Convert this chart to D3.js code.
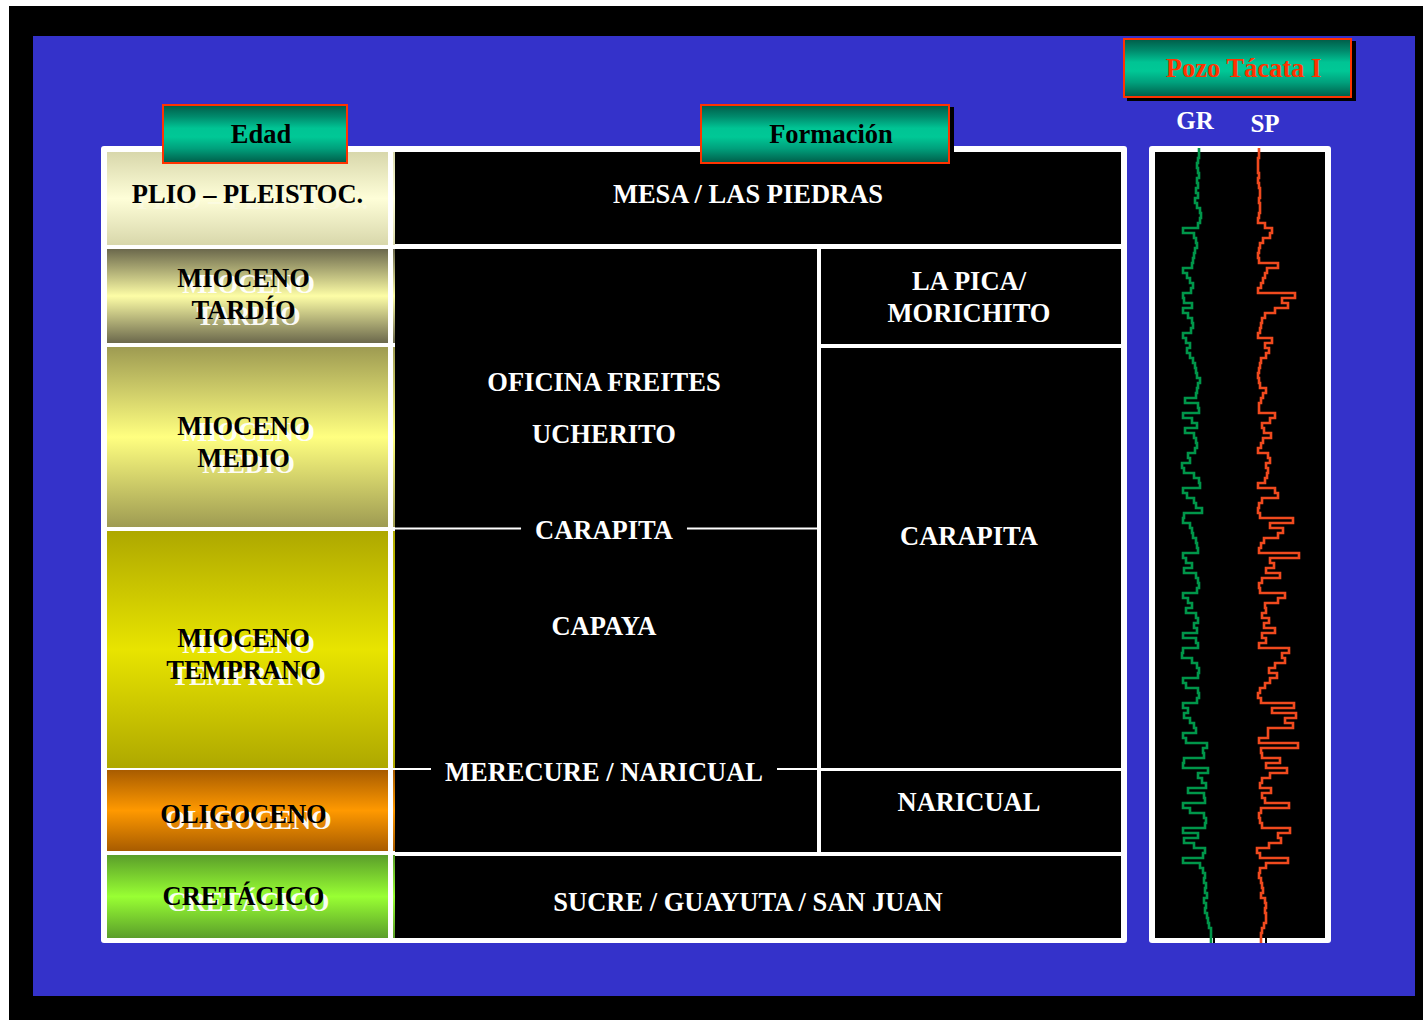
<!DOCTYPE html>
<html><head><meta charset="utf-8">
<script src="https://cdn.jsdelivr.net/npm/d3@7"></script>
<style>body{margin:0;background:#fff}svg{display:block}</style>
</head><body><svg id="c" width="1423" height="1021"></svg>
<script>
// ---------------- DATA ----------------
const ageLabels = [["PLIO – PLEISTOC."], ["MIOCENO", "TARDÍO"], ["MIOCENO", "MEDIO"], ["MIOCENO", "TEMPRANO"], ["OLIGOCENO"], ["CRETÁCICO"]];
const ageTops  = [0, 97, 195, 379, 618, 703];
const ageBases = [93, 191, 375, 616, 699, 786];
const ageLabelDepths = [42, 142, 290, 502, 662, 744];

// formation cells: column ("all" | "left" | "right"), top, base, label lines, label depth
const formationCols   = ["all", "left", "right", "right", "right", "all"];
const formationTops   = [0, 97, 97, 196, 619, 704];
const formationBases  = [92, 700, 192, 616, 700, 786];
const formationLabels = [["MESA / LAS PIEDRAS"], [], ["LA PICA/", "MORICHITO"], ["CARAPITA"], ["NARICUAL"], ["SUCRE / GUAYUTA / SAN JUAN"]];
const formationLabelDepths = [42, 0, 145, 384, 650, 750];

// labels inside the left (Oficina–Merecure) column
const leftColLabels = ["OFICINA FREITES", "UCHERITO", "CARAPITA", "CAPAYA", "MERECURE / NARICUAL"];
const leftColDepths = [230, 282, 378, 474, 620];
const leftColBoundaries = [376.5, 617];   // contacts drawn as lines broken by the label
const leftColBoundaryLabel = [2, 4];

const headerLabels = ["Edad", "Formación", "Pozo Tácata I"];
const logNames = ["GR", "SP"];

// well log samples, every 5 depth units from the top
const logStep = 5;
const grValues = [29,29,28,27,28,29,27,28,26,28, 25,27,30,31,30,28,13,24,26,27,
  25,24,23,22,13,17,20,23,21,13, 14,22,13,18,22,23,21,13,16,20,
  17,20,23,25,26,27,30,28,27,26, 15,28,29,13,22,27,15,24,26,27,
  25,18,20,12,14,24,29,30,13,17, 24,26,32,14,13,20,22,23,26,27,
  28,13,16,22,14,26,28,29,27,13, 18,22,16,26,28,24,27,13,26,28,
  13,12,22,27,29,28,13,16,28,29, 27,13,18,14,20,24,26,13,16,37,
  33,34,14,13,38,28,32,36,18,34, 35,13,20,34,36,35,13,28,14,24,
  35,33,13,30,33,35,34,36,35,37, 34,36,35,37,38,39,41,41,41];
const spValues = [89,89,88,88,88,89,88,89,90,90, 89,90,90,89,88,95,102,100,93,90,
  89,88,89,108,97,95,93,91,88,125, 112,118,105,95,92,91,90,88,102,95,
  99,96,91,90,89,88,89,90,96,93, 91,89,89,105,100,92,94,101,93,91,
  88,98,100,96,98,97,95,88,105,108, 92,89,88,90,123,100,113,108,94,91,
  89,129,100,104,96,110,92,89,90,115, 108,95,96,92,99,94,105,92,96,89,
  119,112,115,105,99,107,100,95,90,88, 91,124,102,126,115,123,98,98,89,128,
  91,92,110,96,117,100,92,90,101,92, 95,119,91,89,90,92,120,108,111,99,
  87,90,118,96,90,89,91,92,93,91, 95,96,95,96,96,94,92,91,91];

// ---------------- STYLE ----------------
const ageColors = [["#d8d7ab", "#fefed8"], ["#6b684c", "#fdfda6"], ["#9e9b52", "#ffff80"],
                   ["#aea800", "#e8e400"], ["#a85c00", "#ff9900"], ["#5a9e2a", "#99ff33"]];
const FONT = "'Liberation Serif','Times New Roman',serif";
const FS = 26.5;

// ---------------- DRAW ----------------
const svg = d3.select("#c");
const defs = svg.append("defs");

svg.append("rect").attr("width", 1423).attr("height", 1021).attr("fill", "#fff");
svg.append("rect").attr("x", 9).attr("y", 6).attr("width", 1414).attr("height", 1014).attr("fill", "#000");
svg.append("rect").attr("x", 33).attr("y", 36).attr("width", 1382).attr("height", 960).attr("fill", "#3432ca");

// gradients
ageColors.forEach((c, i) => {
  const g = defs.append("linearGradient").attr("id", "age" + i).attr("x1", 0).attr("y1", 0).attr("x2", 0).attr("y2", 1);
  g.append("stop").attr("offset", 0).attr("stop-color", c[0]);
  g.append("stop").attr("offset", 0.5).attr("stop-color", c[1]);
  g.append("stop").attr("offset", 1).attr("stop-color", c[0]);
});
const hg = defs.append("linearGradient").attr("id", "hdr").attr("x1", 0).attr("y1", 0).attr("x2", 0).attr("y2", 1);
[[0, "#005c48"], [0.2, "#008a6c"], [0.4, "#00c494"], [0.55, "#00c896"], [0.75, "#00a07c"], [1, "#005c48"]]
  .forEach(s => hg.append("stop").attr("offset", s[0]).attr("stop-color", s[1]));

// scales
const y = d3.scaleLinear().domain([0, 786]).range([152, 938]);
const colX = {all: [395, 1121], left: [395, 817], right: [821, 1121]};
const ageX = [107, 388];

// main white frame
svg.append("rect").attr("x", 101).attr("y", 146).attr("width", 1026).attr("height", 797).attr("rx", 3).attr("fill", "#fff");

// age cells
const ages = ageLabels.map((l, i) => ({l, top: ageTops[i], base: ageBases[i], ld: ageLabelDepths[i], i}));
const ageG = svg.append("g");
ageG.selectAll("rect").data(ages).join("rect")
  .attr("x", ageX[0]).attr("width", ageX[1] - ageX[0])
  .attr("y", d => y(d.top)).attr("height", d => y(d.base) - y(d.top))
  .attr("fill", d => `url(#age${d.i})`);
// thin colour strip at left edge of formation column
ageG.selectAll("rect.strip").data(ages).join("rect").attr("class", "strip")
  .attr("x", 393).attr("width", 2)
  .attr("y", d => y(d.top)).attr("height", d => y(d.base) - y(d.top))
  .attr("fill", d => `url(#age${d.i})`);

function multiText(g, lines, cx, cy, fill, dx, dy) {
  const lh = 32;
  const t = g.append("text").attr("font-family", FONT).attr("font-weight", "bold").attr("font-size", FS)
    .attr("fill", fill).attr("text-anchor", "middle");
  lines.forEach((s, j) => {
    t.append("tspan").attr("x", cx + dx).attr("y", cy + 9 + dy + (j - (lines.length - 1) / 2) * lh).text(s);
  });
  return t;
}
ages.forEach(d => {
  const cx = (ageX[0] + ageX[1]) / 2 - 4 + (d.i === 0 ? 4 : 0);
  const cy = y(d.ld);
  multiText(ageG, d.l, cx, cy, "#fff", 5, 6).attr("opacity", d.i === 0 ? 0.3 : 0.95);
  multiText(ageG, d.l, cx, cy, "#000", 0, 0);
});

// formation cells
const forms = formationLabels.map((l, i) => ({l, col: formationCols[i], top: formationTops[i], base: formationBases[i], ld: formationLabelDepths[i]}));
const fG = svg.append("g");
fG.selectAll("rect").data(forms).join("rect")
  .attr("x", d => colX[d.col][0]).attr("width", d => colX[d.col][1] - colX[d.col][0])
  .attr("y", d => y(d.top)).attr("height", d => y(d.base) - y(d.top))
  .attr("fill", "#000");
forms.forEach(d => {
  if (!d.l.length) return;
  const cx = (colX[d.col][0] + colX[d.col][1]) / 2 + (d.col === "all" ? -10 : -2);
  multiText(fG, d.l, cx, y(d.ld), "#fff", 0, 0);
});

// left column labels + broken contact lines
const lcx = (colX.left[0] + colX.left[1]) / 2;
const lcTexts = leftColLabels.map((s, i) => multiText(fG, [s], lcx - 2, y(leftColDepths[i]), "#fff", 0, 0));
leftColBoundaries.forEach((b, i) => {
  const t = lcTexts[leftColBoundaryLabel[i]];
  const w = t.node().getComputedTextLength();
  const pad = 14;
  const yy = y(b);
  fG.append("line").attr("x1", colX.left[0]).attr("x2", lcx - 2 - w / 2 - pad).attr("y1", yy).attr("y2", yy)
    .attr("stroke", "#fff").attr("stroke-width", 2);
  fG.append("line").attr("x1", lcx - 2 + w / 2 + pad).attr("x2", colX.left[1]).attr("y1", yy).attr("y2", yy)
    .attr("stroke", "#fff").attr("stroke-width", 2);
});

// header boxes
const headerBoxes = [[162, 104, 186, 60, false, "#000"], [700, 104, 250, 60, true, "#000"], [1123, 38, 229, 60, true, "#ff3300"]];
headerLabels.forEach((s, i) => {
  const [bx, by, bw, bh, sh, tc] = headerBoxes[i];
  if (sh) svg.append("rect").attr("x", bx + 4).attr("y", by + 3).attr("width", bw).attr("height", bh).attr("fill", "#000");
  svg.append("rect").attr("x", bx + 1).attr("y", by + 1).attr("width", bw - 2).attr("height", bh - 2)
    .attr("fill", "url(#hdr)").attr("stroke", "#ff3300").attr("stroke-width", 2);
  svg.append("text").attr("x", bx + bw / 2 + 6).attr("y", by + bh / 2 + 9)
    .attr("text-anchor", "middle").attr("font-family", FONT).attr("font-weight", "bold").attr("font-size", FS)
    .attr("fill", tc).text(s);
});

// log track
svg.append("rect").attr("x", 1149).attr("y", 146).attr("width", 182).attr("height", 797).attr("rx", 3).attr("fill", "#fff");
svg.append("rect").attr("x", 1155).attr("y", 152).attr("width", 170).attr("height", 786).attr("fill", "#000");

const logY = d3.scaleLinear().domain([0, 795]).range([148, 943]);
const grX = d3.scaleLinear().domain([0, 60]).range([1170, 1230]);
const spX = d3.scaleLinear().domain([80, 140]).range([1250, 1310]);
const toPts = vals => vals.map((v, i) => ({d: i * logStep, v})).concat([{d: 795, v: vals[vals.length - 1]}]);
const logs = [{vals: grValues, sx: grX, color: "#00964a"}, {vals: spValues, sx: spX, color: "#f04a1e"}];
logs.forEach(L => {
  const line = d3.line().x(p => L.sx(p.v)).y(p => logY(p.d)).curve(d3.curveStepBefore);
  svg.append("path").datum(toPts(L.vals)).attr("d", line).attr("fill", "none")
    .attr("stroke", L.color).attr("stroke-width", 2.6);
});
// bottom ticks
[grX(44), spX(96)].forEach(x => svg.append("line").attr("x1", x).attr("x2", x).attr("y1", 936).attr("y2", 943)
  .attr("stroke", "#000").attr("stroke-width", 2));

// log names
const logNameX = [1195, 1265], logNameY = [129, 132];
logNames.forEach((s, i) => svg.append("text").attr("x", logNameX[i]).attr("y", logNameY[i]).attr("text-anchor", "middle")
  .attr("font-family", FONT).attr("font-weight", "bold").attr("font-size", 25).attr("fill", "#fff").text(s));
</script></body></html>
